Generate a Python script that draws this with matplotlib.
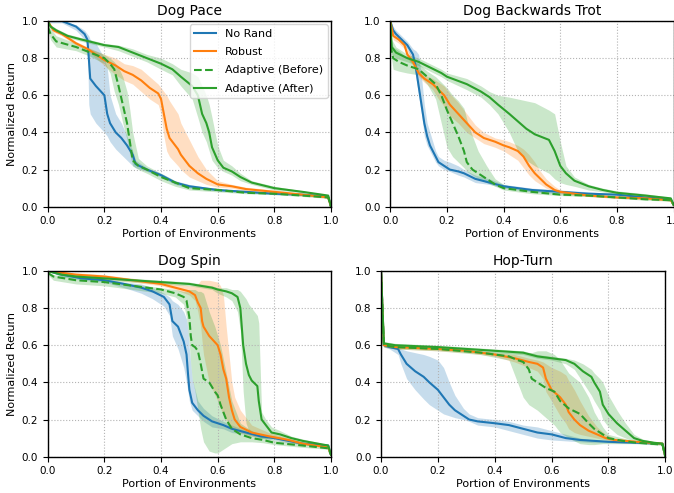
import matplotlib
matplotlib.use("Agg")
import matplotlib.pyplot as plt

# ---- Dog Pace ----
pace_norand_x = [0, .05, .10, .13, .14, .145, .15, .17, .20, .205, .21, .22, .24, .26, .28, .30, .31, .35, .40, .45, .50, .60, .70, .80, .90, .99, 1.0]
pace_norand_y = [1.0, 1.0, .97, .93, .90, .80, .69, .65, .60, .55, .50, .45, .40, .37, .33, .28, .23, .20, .17, .13, .11, .09, .08, .07, .065, .055, 0.0]
pace_norand_lo = [.99, .99, .95, .90, .87, .55, .50, .45, .40, .39, .38, .35, .31, .28, .25, .22, .21, .19, .16, .12, .10, .085, .075, .065, .06, .05, 0.0]
pace_norand_hi = [1.0, 1.0, .98, .95, .93, .92, .90, .88, .80, .77, .75, .60, .50, .45, .38, .30, .25, .21, .18, .14, .12, .095, .085, .075, .07, .06, 0.0]

pace_robust_x = [0, .02, .05, .08, .10, .14, .17, .20, .24, .27, .30, .33, .36, .39, .40, .41, .42, .43, .46, .47, .50, .53, .56, .60, .65, .70, .80, .90, .99, 1.0]
pace_robust_y = [1.0, .95, .93, .90, .88, .85, .82, .79, .76, .73, .71, .68, .64, .61, .58, .50, .42, .37, .31, .28, .22, .18, .15, .12, .11, .095, .08, .065, .05, 0.0]
pace_robust_lo = [1.0, .94, .92, .89, .87, .84, .80, .76, .71, .68, .66, .62, .58, .55, .50, .38, .30, .27, .22, .20, .16, .14, .12, .105, .10, .085, .075, .06, .045, 0.0]
pace_robust_hi = [1.0, .96, .94, .91, .89, .86, .84, .82, .80, .77, .76, .74, .70, .66, .64, .62, .60, .57, .50, .45, .36, .27, .20, .14, .12, .105, .09, .07, .055, 0.0]

pace_before_x = [0, .01, .03, .10, .15, .20, .22, .235, .25, .265, .28, .29, .30, .32, .35, .40, .45, .50, .60, .70, .80, .90, .99, 1.0]
pace_before_y = [.97, .93, .89, .86, .83, .80, .77, .74, .65, .55, .45, .35, .25, .22, .20, .16, .13, .10, .09, .075, .07, .06, .05, 0.0]
pace_before_lo = [.95, .90, .86, .84, .81, .77, .72, .62, .55, .45, .36, .28, .22, .20, .18, .14, .11, .09, .08, .07, .065, .055, .045, 0.0]
pace_before_hi = [1.0, .96, .92, .88, .85, .82, .80, .78, .75, .70, .62, .52, .40, .26, .22, .18, .14, .11, .10, .08, .075, .065, .055, 0.0]

pace_after_x = [0, .01, .03, .07, .12, .20, .25, .30, .35, .40, .44, .47, .51, .53, .545, .56, .57, .58, .60, .62, .65, .68, .72, .80, .90, .99, 1.0]
pace_after_y = [1.0, .97, .95, .92, .90, .87, .86, .83, .80, .77, .74, .70, .65, .60, .50, .45, .40, .32, .25, .21, .19, .16, .13, .10, .08, .06, 0.0]
pace_after_lo = [1.0, .96, .94, .91, .89, .86, .84, .81, .78, .74, .71, .65, .58, .48, .40, .35, .30, .25, .21, .19, .17, .14, .12, .09, .075, .055, 0.0]
pace_after_hi = [1.0, .98, .96, .93, .91, .88, .87, .85, .82, .80, .77, .74, .72, .70, .65, .60, .55, .48, .33, .25, .22, .18, .14, .11, .085, .065, 0.0]

# ---- Dog Backwards Trot ----
trot_norand_x = [0, .01, .02, .04, .06, .08, .09, .10, .11, .12, .13, .14, .16, .17, .19, .21, .24, .26, .30, .35, .40, .45, .50, .60, .70, .80, .90, .99, 1.0]
trot_norand_y = [1.0, .95, .93, .90, .87, .82, .75, .65, .55, .45, .38, .33, .27, .24, .22, .20, .19, .18, .15, .13, .11, .10, .09, .08, .07, .065, .05, .04, .01]
trot_norand_lo = [1.0, .93, .91, .88, .85, .78, .70, .60, .50, .38, .33, .30, .24, .22, .20, .19, .17, .16, .13, .12, .10, .09, .08, .07, .06, .055, .045, .035, .01]
trot_norand_hi = [1.0, .97, .95, .92, .89, .85, .84, .82, .70, .55, .45, .40, .30, .27, .25, .24, .22, .20, .17, .15, .12, .11, .10, .09, .08, .07, .055, .045, .01]

trot_robust_x = [0, .01, .03, .05, .06, .08, .10, .12, .15, .17, .19, .21, .24, .27, .30, .33, .37, .40, .42, .45, .47, .49, .51, .53, .55, .58, .60, .65, .70, .80, .90, .99, 1.0]
trot_robust_y = [1.0, .92, .90, .87, .82, .78, .72, .69, .66, .63, .60, .55, .50, .45, .40, .37, .35, .33, .32, .30, .27, .22, .18, .15, .12, .09, .08, .07, .06, .05, .045, .035, .01]
trot_robust_lo = [1.0, .90, .88, .85, .80, .76, .70, .67, .63, .58, .54, .49, .45, .40, .37, .34, .32, .30, .28, .25, .21, .17, .14, .12, .10, .08, .07, .06, .055, .045, .04, .03, .01]
trot_robust_hi = [1.0, .94, .92, .89, .85, .80, .74, .71, .69, .67, .65, .61, .56, .50, .44, .40, .37, .36, .35, .33, .31, .28, .24, .19, .15, .11, .09, .08, .065, .055, .05, .04, .01]

trot_before_x = [0, .01, .03, .06, .10, .13, .16, .18, .20, .22, .24, .26, .27, .29, .31, .34, .37, .40, .45, .50, .60, .70, .80, .90, .99, 1.0]
trot_before_y = [.87, .80, .78, .76, .74, .70, .66, .60, .52, .45, .38, .30, .24, .20, .18, .15, .12, .10, .09, .08, .065, .06, .05, .04, .035, .01]
trot_before_lo = [.84, .74, .73, .72, .71, .66, .58, .45, .32, .27, .24, .21, .19, .17, .15, .13, .11, .09, .08, .07, .06, .055, .045, .035, .03, .01]
trot_before_hi = [.92, .86, .84, .80, .77, .73, .70, .67, .64, .60, .57, .53, .47, .38, .30, .22, .15, .12, .10, .09, .075, .065, .055, .045, .04, .01]

trot_after_x = [0, .005, .02, .06, .10, .14, .18, .20, .27, .32, .35, .38, .42, .45, .48, .51, .56, .58, .60, .62, .65, .70, .75, .80, .90, .99, 1.0]
trot_after_y = [1.0, .86, .83, .80, .78, .75, .72, .70, .66, .62, .59, .55, .50, .46, .42, .39, .36, .30, .22, .18, .14, .11, .09, .075, .06, .045, .01]
trot_after_lo = [1.0, .82, .80, .78, .76, .73, .70, .68, .63, .59, .55, .50, .40, .30, .25, .22, .18, .15, .13, .12, .11, .09, .08, .065, .05, .04, .01]
trot_after_hi = [1.0, .90, .86, .82, .80, .77, .74, .72, .69, .65, .62, .60, .59, .58, .57, .56, .52, .50, .35, .22, .16, .12, .10, .085, .07, .05, .01]

# ---- Dog Spin ----
spin_norand_x = [0, .05, .12, .20, .27, .33, .37, .41, .43, .44, .46, .48, .49, .495, .50, .51, .53, .55, .58, .62, .65, .70, .75, .80, .85, .90, .99, 1.0]
spin_norand_y = [1.0, .98, .96, .95, .93, .91, .89, .86, .82, .73, .70, .62, .55, .45, .36, .29, .25, .22, .19, .17, .15, .13, .11, .10, .085, .07, .06, .01]
spin_norand_lo = [1.0, .97, .95, .94, .91, .88, .85, .81, .76, .65, .58, .48, .40, .35, .30, .25, .22, .19, .16, .15, .13, .12, .10, .09, .075, .065, .05, .01]
spin_norand_hi = [1.0, .99, .97, .96, .94, .93, .91, .88, .86, .84, .82, .78, .74, .68, .58, .42, .30, .26, .22, .19, .17, .14, .12, .11, .095, .08, .065, .01]

spin_robust_x = [0, .05, .10, .20, .30, .40, .45, .50, .52, .53, .54, .545, .55, .57, .60, .61, .62, .63, .64, .65, .66, .68, .72, .78, .85, .90, .99, 1.0]
spin_robust_y = [1.0, .99, .98, .97, .95, .93, .91, .89, .87, .83, .80, .73, .70, .65, .60, .55, .47, .42, .32, .25, .20, .16, .13, .11, .09, .07, .05, .01]
spin_robust_lo = [1.0, .98, .97, .96, .94, .92, .90, .87, .84, .78, .70, .62, .55, .40, .30, .26, .22, .20, .17, .15, .14, .13, .11, .10, .08, .065, .045, .01]
spin_robust_hi = [1.0, .995, .99, .98, .96, .94, .93, .92, .92, .93, .95, .95, .95, .95, .94, .92, .87, .70, .55, .40, .32, .25, .17, .13, .10, .08, .055, .01]

spin_before_x = [0, .02, .10, .20, .30, .40, .45, .48, .49, .50, .505, .51, .52, .53, .54, .55, .57, .59, .60, .61, .63, .65, .68, .72, .76, .80, .90, .99, 1.0]
spin_before_y = [.99, .97, .95, .94, .92, .90, .88, .86, .84, .75, .65, .60, .59, .57, .50, .42, .40, .35, .33, .28, .20, .15, .12, .10, .09, .075, .06, .045, .01]
spin_before_lo = [.98, .95, .93, .92, .90, .88, .86, .82, .75, .60, .50, .42, .35, .25, .15, .08, .03, .02, .02, .03, .05, .07, .08, .08, .075, .065, .05, .04, .01]
spin_before_hi = [1.0, .98, .96, .95, .93, .91, .90, .89, .89, .90, .90, .90, .90, .89, .89, .88, .78, .70, .65, .60, .45, .30, .18, .14, .11, .09, .07, .05, .01]

spin_after_x = [0, .05, .10, .20, .30, .40, .50, .58, .60, .63, .65, .67, .68, .685, .69, .70, .71, .72, .74, .745, .755, .77, .79, .82, .86, .90, .99, 1.0]
spin_after_y = [1.0, .98, .97, .96, .95, .94, .93, .91, .90, .89, .88, .86, .80, .70, .60, .50, .44, .41, .38, .30, .20, .17, .13, .12, .10, .085, .06, .01]
spin_after_lo = [1.0, .97, .96, .95, .94, .93, .92, .90, .88, .86, .84, .78, .68, .52, .35, .18, .14, .13, .12, .11, .10, .10, .10, .10, .09, .075, .055, .01]
spin_after_hi = [1.0, .99, .98, .97, .96, .95, .94, .92, .91, .91, .90, .90, .89, .88, .87, .85, .82, .80, .76, .72, .24, .20, .16, .14, .11, .095, .065, .01]

# ---- Hop-Turn ----
hop_norand_x = [0, .01, .03, .06, .07, .09, .12, .15, .17, .20, .22, .24, .26, .29, .31, .34, .40, .45, .50, .55, .60, .65, .70, .75, .80, .90, .99, 1.0]
hop_norand_y = [1.0, .60, .59, .58, .55, .50, .46, .43, .40, .36, .32, .28, .25, .22, .20, .19, .18, .17, .15, .13, .12, .10, .09, .085, .08, .075, .07, 0.0]
hop_norand_lo = [1.0, .59, .58, .55, .50, .42, .36, .31, .28, .25, .23, .22, .21, .20, .19, .17, .16, .14, .12, .10, .09, .085, .08, .075, .075, .07, .065, 0.0]
hop_norand_hi = [1.0, .61, .60, .59, .58, .57, .56, .55, .54, .52, .48, .40, .33, .26, .23, .21, .20, .19, .17, .16, .14, .12, .10, .09, .085, .08, .075, 0.0]

hop_robust_x = [0, .01, .05, .20, .30, .40, .47, .52, .55, .57, .58, .60, .63, .65, .66, .68, .70, .73, .76, .79, .82, .90, .99, 1.0]
hop_robust_y = [1.0, .60, .59, .58, .57, .55, .53, .51, .50, .48, .42, .36, .32, .28, .24, .20, .17, .14, .12, .10, .09, .08, .07, 0.0]
hop_robust_lo = [1.0, .59, .58, .57, .56, .54, .51, .48, .46, .42, .35, .30, .22, .18, .15, .13, .12, .11, .10, .09, .085, .075, .065, 0.0]
hop_robust_hi = [1.0, .61, .60, .59, .58, .56, .55, .53, .52, .51, .50, .48, .46, .44, .41, .36, .30, .22, .16, .12, .10, .085, .075, 0.0]

hop_before_x = [0, .01, .05, .20, .35, .45, .48, .50, .52, .53, .55, .58, .61, .63, .66, .70, .73, .75, .78, .80, .85, .90, .99, 1.0]
hop_before_y = [1.0, .60, .59, .58, .56, .54, .52, .51, .47, .42, .40, .37, .35, .30, .26, .23, .18, .15, .12, .10, .085, .075, .065, 0.0]
hop_before_lo = [1.0, .59, .58, .57, .55, .52, .40, .32, .28, .27, .25, .21, .17, .13, .10, .07, .065, .065, .07, .07, .07, .07, .06, 0.0]
hop_before_hi = [1.0, .61, .60, .59, .57, .56, .56, .56, .56, .56, .57, .57, .55, .52, .45, .40, .32, .24, .16, .12, .10, .085, .07, 0.0]

hop_after_x = [0, .01, .05, .20, .30, .40, .50, .55, .60, .65, .68, .71, .74, .75, .77, .78, .80, .83, .86, .89, .92, .96, .99, 1.0]
hop_after_y = [1.0, .61, .60, .59, .58, .57, .56, .54, .53, .52, .50, .46, .43, .40, .35, .28, .23, .18, .14, .10, .085, .075, .07, 0.0]
hop_after_lo = [1.0, .60, .59, .58, .57, .56, .55, .53, .52, .50, .47, .40, .33, .30, .25, .20, .16, .12, .10, .085, .075, .07, .065, 0.0]
hop_after_hi = [1.0, .62, .61, .60, .59, .58, .57, .55, .54, .53, .52, .50, .47, .45, .42, .40, .33, .25, .18, .12, .095, .08, .075, 0.0]

titles = ["Dog Pace", "Dog Backwards Trot", "Dog Spin", "Hop-Turn"]
labels = ["No Rand", "Robust", "Adaptive (Before)", "Adaptive (After)"]
colors = ["#1f77b4", "#ff7f0e", "#2ca02c", "#2ca02c"]
styles = ["-", "-", "--", "-"]

panels = [
    [(pace_norand_x, pace_norand_y, pace_norand_lo, pace_norand_hi),
     (pace_robust_x, pace_robust_y, pace_robust_lo, pace_robust_hi),
     (pace_before_x, pace_before_y, pace_before_lo, pace_before_hi),
     (pace_after_x, pace_after_y, pace_after_lo, pace_after_hi)],
    [(trot_norand_x, trot_norand_y, trot_norand_lo, trot_norand_hi),
     (trot_robust_x, trot_robust_y, trot_robust_lo, trot_robust_hi),
     (trot_before_x, trot_before_y, trot_before_lo, trot_before_hi),
     (trot_after_x, trot_after_y, trot_after_lo, trot_after_hi)],
    [(spin_norand_x, spin_norand_y, spin_norand_lo, spin_norand_hi),
     (spin_robust_x, spin_robust_y, spin_robust_lo, spin_robust_hi),
     (spin_before_x, spin_before_y, spin_before_lo, spin_before_hi),
     (spin_after_x, spin_after_y, spin_after_lo, spin_after_hi)],
    [(hop_norand_x, hop_norand_y, hop_norand_lo, hop_norand_hi),
     (hop_robust_x, hop_robust_y, hop_robust_lo, hop_robust_hi),
     (hop_before_x, hop_before_y, hop_before_lo, hop_before_hi),
     (hop_after_x, hop_after_y, hop_after_lo, hop_after_hi)],
]

# axes boxes in figure fractions (left, bottom, width, height)
boxes = [
    [0.0708, 0.5807, 0.4203, 0.3767],
    [0.5791, 0.5807, 0.4203, 0.3767],
    [0.0708, 0.0737, 0.4203, 0.3767],
    [0.5653, 0.0737, 0.4218, 0.3767],
]

fig = plt.figure(figsize=(6.74, 4.93), dpi=100)

for i in range(4):
    ax = fig.add_axes(boxes[i])
    for j in range(4):
        x, y, lo, hi = panels[i][j]
        ax.fill_between(x, lo, hi, color=colors[j], alpha=0.25, linewidth=0)
        ax.plot(x, y, color=colors[j], linestyle=styles[j], linewidth=1.5, label=labels[j])
    ax.set_xlim(0, 1)
    ax.set_ylim(0, 1)
    ax.set_xticks([0, 0.2, 0.4, 0.6, 0.8, 1.0])
    ax.set_yticks([0, 0.2, 0.4, 0.6, 0.8, 1.0])
    ax.grid(True, linestyle=":", color="0.7", linewidth=0.8)
    ax.tick_params(labelsize=7.5, length=3.5, width=0.8)
    for s in ax.spines.values():
        s.set_linewidth(1.0)
    ax.set_title(titles[i], fontsize=10, pad=4)
    ax.set_xlabel("Portion of Environments", fontsize=8, labelpad=2)
    if i % 2 == 0:
        ax.set_ylabel("Normalized Return", fontsize=8, labelpad=3)
    if i == 0:
        ax.legend(loc="upper right", fontsize=8, handlelength=2.0,
                  borderaxespad=0.3, labelspacing=0.75)

fig.savefig("out.png", dpi=100)
